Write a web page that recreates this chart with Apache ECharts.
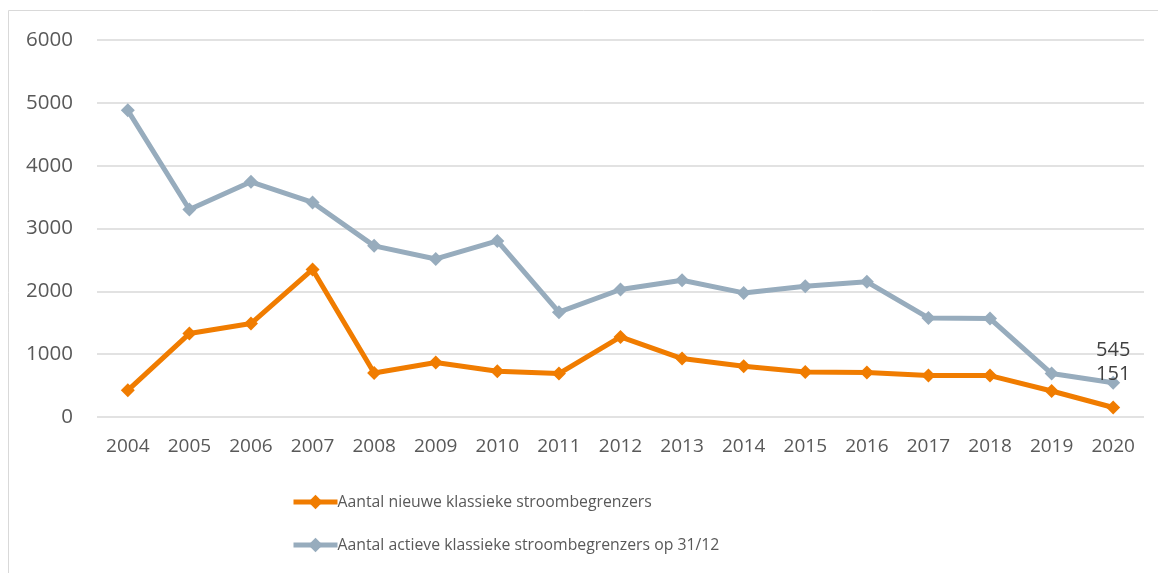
<!DOCTYPE html>
<html><head><meta charset="utf-8">
<script src="https://cdn.jsdelivr.net/npm/echarts@6/dist/echarts.min.js"></script>
<style>html,body{margin:0;padding:0;background:#fff}#c{width:1158px;height:573px}</style>
</head><body><div id="c"></div>
<script>
const years = ['2004','2005','2006','2007','2008','2009','2010','2011','2012','2013','2014','2015','2016','2017','2018','2019','2020'];
const nieuwe = [425,1328,1487,2348,701,866,728,691,1274,930,808,717,707,659,659,414,151];
const actieve = [4880,3303,3743,3415,2724,2515,2803,1668,2029,2177,1975,2082,2151,1577,1567,691,545];
const yTicks = [0,1000,2000,3000,4000,5000,6000];
const nameNieuwe = 'Aantal nieuwe klassieke stroombegrenzers';
const nameActieve = 'Aantal actieve klassieke stroombegrenzers op 31/12';

const font = '"Open Sans", sans-serif';
const chart = echarts.init(document.getElementById('c'));
const lastIdx = years.length - 1;
function withLabel(arr, offY) {
  return arr.map((v, i) => i === lastIdx ? {
    value: v,
    label: {show: true, position: 'inside', offset: [0, offY], formatter: '{c}', color: '#404040', fontSize: 20, fontFamily: font}
  } : v);
}
chart.setOption({
  animation: false,
  graphic: [{type: 'rect', shape: {x: 8.5, y: 10.5, width: 1160, height: 570}, style: {fill: 'none', stroke: '#d9d9d9', lineWidth: 1}, silent: true}],
  grid: {left: 97, right: 14, top: 40, bottom: 156, containLabel: false},
  xAxis: {
    type: 'category', data: years, boundaryGap: true,
    axisLine: {show: false}, axisTick: {show: false},
    axisLabel: {color: '#595959', fontSize: 19, fontFamily: font, margin: 20}
  },
  yAxis: {
    type: 'value', min: 0, max: 6000, interval: 1000,
    axisLine: {show: false}, axisTick: {show: false},
    splitLine: {lineStyle: {color: '#d9d9d9', width: 1.5}},
    axisLabel: {color: '#595959', fontSize: 20.5, fontFamily: font, margin: 24,
      formatter: v => yTicks.includes(v) ? String(v) : ''}
  },
  legend: {
    orient: 'vertical', left: 286, top: 489, itemGap: 27,
    itemWidth: 44, itemHeight: 18,
    lineStyle: {width: 5},
    textStyle: {color: '#595959', fontSize: 15.8, fontFamily: font, padding: [0, 0, 0, -5]},
    data: [nameNieuwe, nameActieve]
  },
  series: [
    {name: nameActieve, type: 'line', data: withLabel(actieve, -32), symbol: 'diamond', symbolSize: 14,
      itemStyle: {color: '#97acbd'}, lineStyle: {color: '#97acbd', width: 5}, z: 2},
    {name: nameNieuwe, type: 'line', data: withLabel(nieuwe, -33), symbol: 'diamond', symbolSize: 14,
      itemStyle: {color: '#f07c00'}, lineStyle: {color: '#f07c00', width: 5}, z: 3}
  ]
});
</script></body></html>
